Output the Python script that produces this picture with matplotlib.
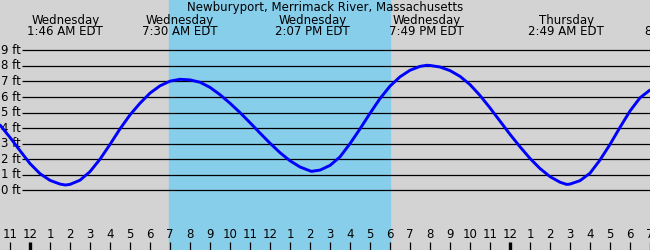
import matplotlib
matplotlib.use("Agg")
import matplotlib.pyplot as plt

# Tide curve (hours from Wed midnight, feet)
hours = [-1.5, -1.0, -0.5, 0.0, 0.5, 1.0, 1.5, 1.77, 2.0, 2.5, 3.0, 3.5, 4.0, 4.5,
         5.0, 5.5, 6.0, 6.5, 7.0, 7.5, 8.0, 8.5, 9.0, 9.5, 10.0, 10.5, 11.0, 11.5,
         12.0, 12.5, 13.0, 13.5, 14.0, 14.08, 14.5, 15.0, 15.5, 16.0, 16.5, 17.0,
         17.5, 18.0, 18.5, 19.0, 19.5, 19.83, 20.0, 20.5, 21.0, 21.5, 22.0, 22.5,
         23.0, 23.5, 24.0, 24.5, 25.0, 25.5, 26.0, 26.5, 26.83, 27.0, 27.5, 28.0,
         28.5, 29.0, 29.5, 30.0, 30.5, 31.0]
feet = [4.2, 3.4, 2.55, 1.72, 1.07, 0.64, 0.4, 0.34, 0.38, 0.65, 1.2, 2.0, 2.95, 3.95,
        4.85, 5.6, 6.25, 6.72, 7.02, 7.14, 7.1, 6.95, 6.62, 6.15, 5.6, 5.0, 4.35, 3.68,
        3.03, 2.42, 1.9, 1.5, 1.25, 1.22, 1.3, 1.6, 2.15, 3.0, 3.95, 4.95,
        5.9, 6.7, 7.3, 7.72, 7.97, 8.04, 8.03, 7.93, 7.7, 7.33, 6.8, 6.1,
        5.3, 4.45, 3.6, 2.8, 2.05, 1.4, 0.88, 0.52, 0.38, 0.4, 0.62, 1.1,
        1.95, 2.95, 4.05, 5.1, 5.95, 6.45]

# high / low tide labels
event_hours = [1.77, 7.5, 14.12, 19.82, 26.82, 32.63]
event_days = ["Wednesday", "Wednesday", "Wednesday", "Wednesday", "Thursday", "Thursday"]
event_times = ["1:46 AM EDT", "7:30 AM EDT", "2:07 PM EDT", "7:49 PM EDT", "2:49 AM EDT", "8:38 AM EDT"]

sunrise, sunset = 6.95, 18.0
ft_levels = list(range(10))
tick_hours = list(range(-1, 32))

fig = plt.figure(figsize=(6.5, 2.5), dpi=100)
ax = fig.add_axes([0, 0, 1, 1])
ax.set_xlim(-1.5, 31.0)
ax.set_ylim(-3.84, 12.24)
ax.axis("off")

ax.axvspan(-1.5, 31.0, color="#d3d3d3", zorder=0)
ax.axvspan(sunrise, sunset, color="#87ceeb", zorder=1)

# depth grid + labels
ax.hlines(ft_levels, -0.4, 31.0, color="black", lw=0.9, zorder=2)
for f in ft_levels:
    ax.text(-0.47, f, f"{f} ft", ha="right", va="center", fontsize=8.5, zorder=3)

ax.plot(hours, feet, color="#0000ff", lw=2.1, zorder=4,
        solid_joinstyle="round", solid_capstyle="round")

ax.text(14.75, 11.77, "Newburyport, Merrimack River, Massachusetts",
        ha="center", va="center", fontsize=8.5, zorder=5)
for h, d, t in zip(event_hours, event_days, event_times):
    ax.text(h, 10.95, d, ha="center", va="center", fontsize=8.5, zorder=5)
    ax.text(h, 10.2, t, ha="center", va="center", fontsize=8.5, zorder=5)

# hour ticks along the bottom, midnight ticks thicker
for h in tick_hours:
    lab = str(h % 12 or 12)
    ax.text(h, -2.87, lab, ha="center", va="center", fontsize=8.5, zorder=5)
    ax.vlines(h, -3.84, -3.3, color="black", lw=2.4 if h % 24 == 0 else 0.9, zorder=5)

fig.savefig("out.png", dpi=100)
